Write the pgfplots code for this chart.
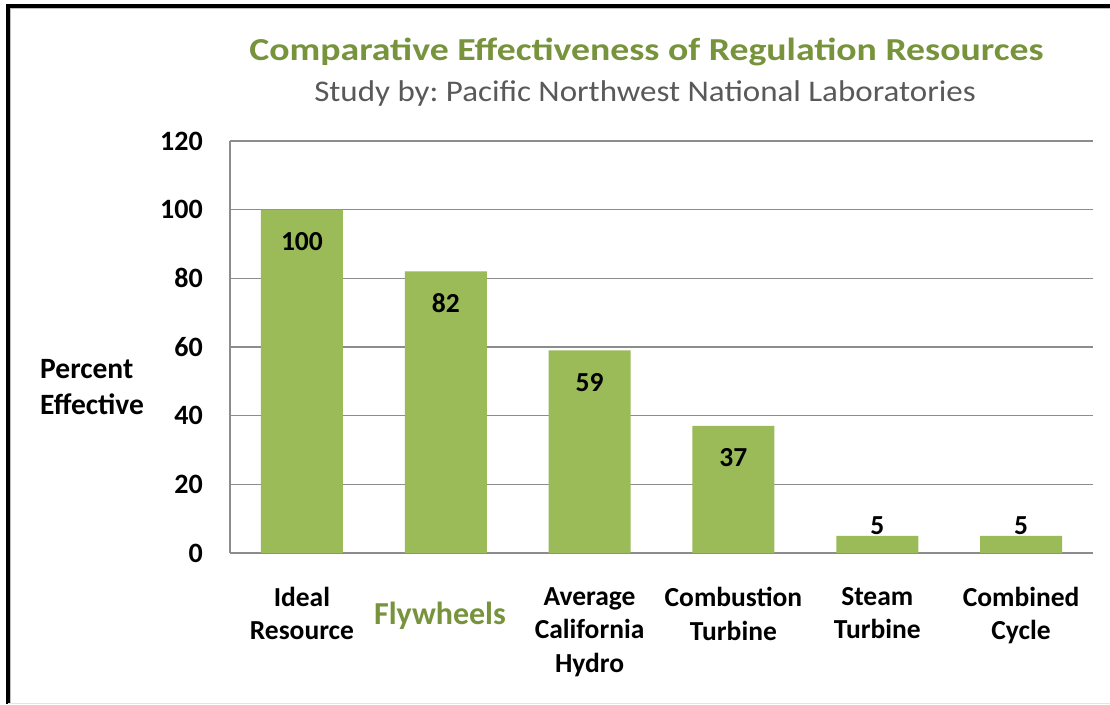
\documentclass[border=0pt]{standalone}
\usepackage{fontspec}
\setmainfont{Carlito}
\usepackage{graphicx}
\usepackage{pgfplots}
\pgfplotsset{compat=1.18}
\definecolor{bargreen}{HTML}{9BBB59}
\definecolor{titlegreen}{HTML}{77933C}
\definecolor{subgray}{HTML}{595959}
\definecolor{gridgray}{HTML}{8C8C8C}
\pgfplotsset{/pgf/number format/assume math mode=true}
\frenchspacing
\begin{document}
\begin{tikzpicture}
\useasboundingbox (0,0) rectangle (1110pt,704pt);
\fill[white] (0,0) rectangle (1110pt,704pt);
\draw[black, line width=4pt] (8pt,0) -- (8pt,697.5pt) -- (1110pt,697.5pt);
\draw[black!25, line width=1pt] (10.5pt,0) -- (10.5pt,695pt) -- (1110pt,695pt);
\draw[black!10, line width=1pt] (8pt,0.5pt) -- (1110pt,0.5pt);
\begin{axis}[
  at={(230pt,151pt)}, anchor=south west,
  scale only axis, width=863pt, height=412pt,
  xmin=-0.5, xmax=5.5, ymin=0, ymax=120,
  ytick={0,20,...,120},
  xtick={0,...,5},
  xticklabels={{Ideal\\Resource},{},{Average\\California\\Hydro},{Combustion\\Turbine},{Steam\\Turbine},{Combined\\Cycle}},
  axis x line*=bottom, axis y line*=left,
  axis line style={gridgray, line width=1.2pt},
  ymajorgrids, grid style={gridgray, line width=1.2pt},
  major tick length=0pt,
  yticklabel style={font=\fontsize{28}{30}\selectfont\bfseries, anchor=east, inner sep=0pt, xshift=-27pt},
  xticklabel style={font=\fontsize{27.5}{33.5}\selectfont\bfseries, align=center, anchor=north, inner sep=0pt, yshift=-34pt},
  clip=false,
]
\addplot[ybar, bar width=82pt, bar shift=0pt, fill=bargreen, draw=none,
  nodes near coords,
  every node near coord/.append style={font=\fontsize{27.5}{30}\selectfont\bfseries, text=black, anchor=center, yshift=-32pt}]
  coordinates {(0,100) (1,82) (2,59) (3,37)};
\addplot[ybar, bar width=82pt, bar shift=0pt, fill=bargreen, draw=none,
  nodes near coords,
  every node near coord/.append style={font=\fontsize{27.5}{30}\selectfont\bfseries, text=black, anchor=center, yshift=10pt}]
  coordinates {(4,5) (5,5)};
\end{axis}
\node[font=\fontsize{32}{36}\selectfont\bfseries, text=titlegreen] at (440pt,88pt) {Flywheels};
\node[anchor=west, align=left, font=\fontsize{29.5}{36}\selectfont\bfseries, inner sep=0pt] at (40pt,317pt) {Percent\\Effective};
\node[anchor=base, font=\fontsize{32}{36}\selectfont\bfseries, text=titlegreen] at (646.5pt,643pt) {\scalebox{1.18}[1]{Comparative Effectiveness of Regulation Resources}};
\node[anchor=base, font=\fontsize{30}{36}\selectfont, text=subgray] at (645pt,602pt) {\scalebox{1.1}[1]{Study by: Pacific Northwest National Laboratories}};
\end{tikzpicture}
\end{document}
